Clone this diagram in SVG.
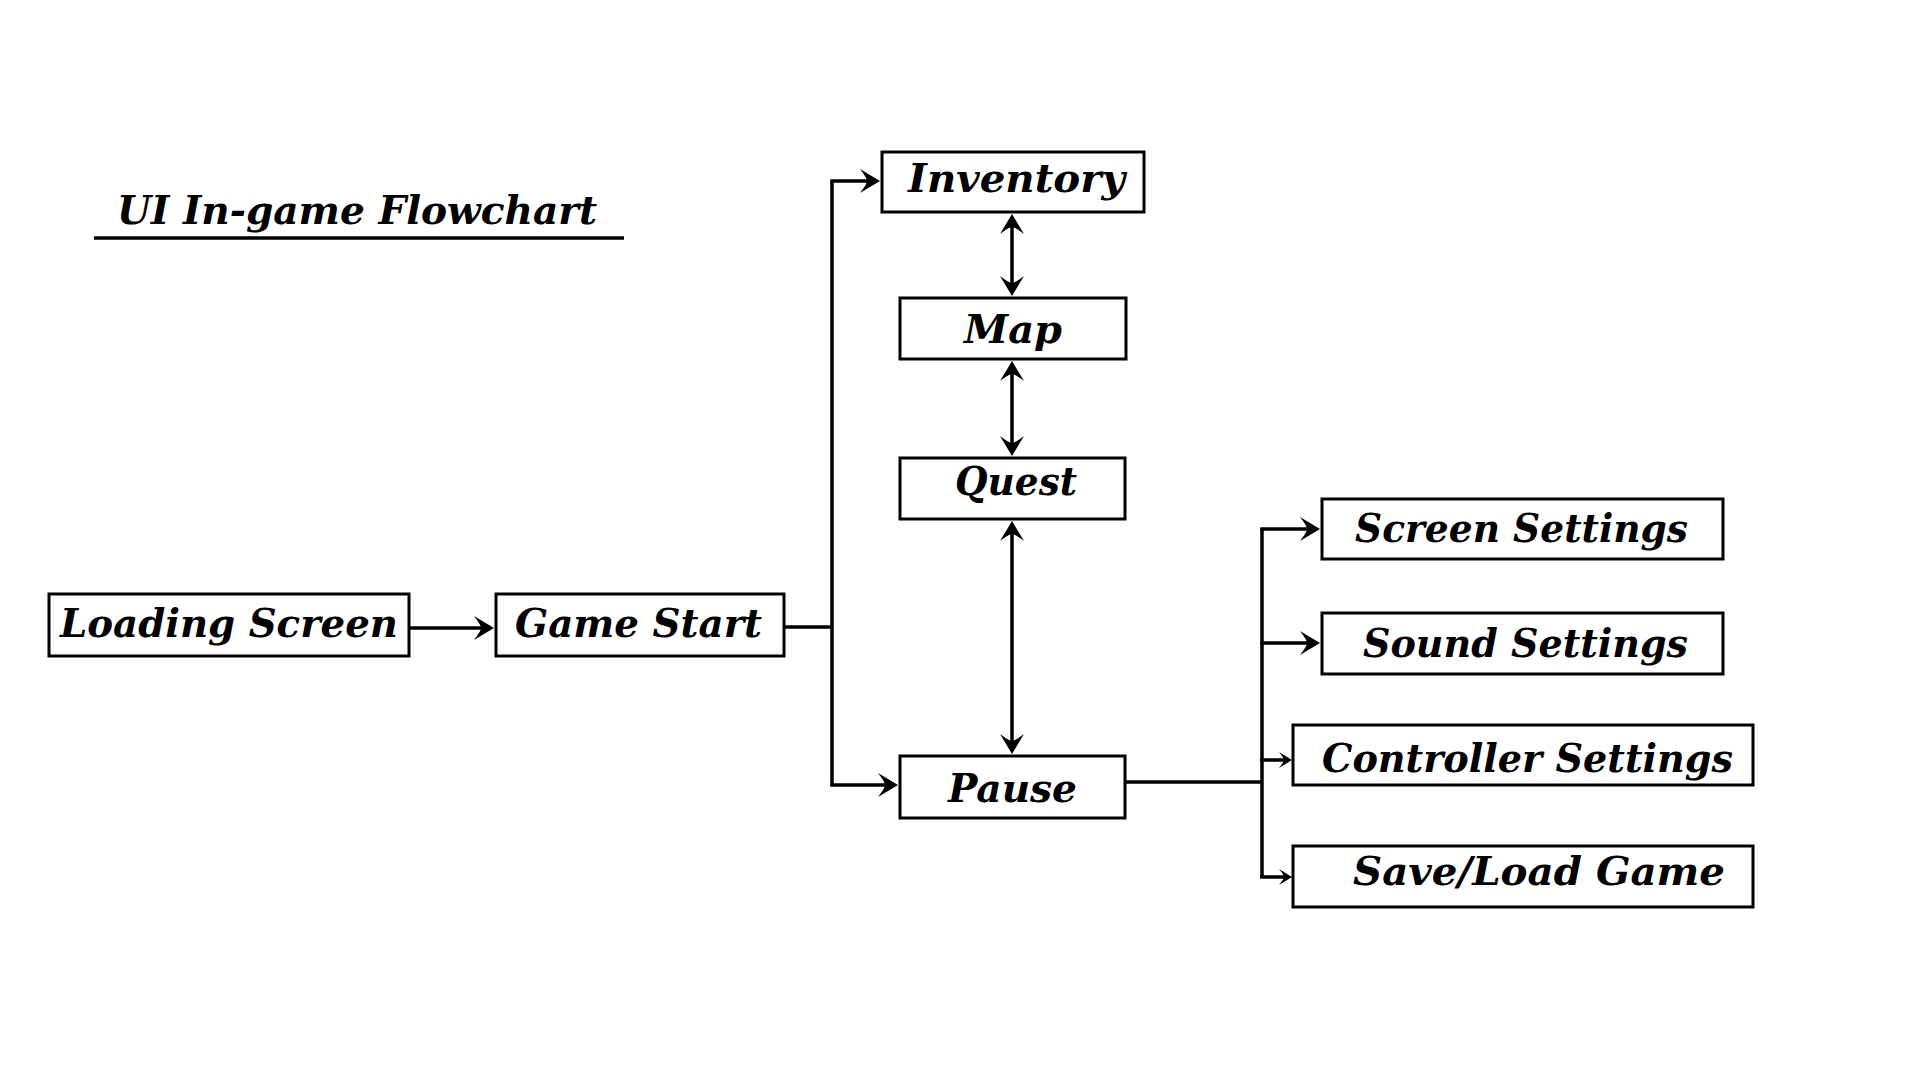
<svg xmlns="http://www.w3.org/2000/svg" width="1920" height="1080" viewBox="0 0 1920 1080">
<style>
.box{fill:#fff;stroke:#000;stroke-width:3}
.lbl{font-family:"DejaVu Serif","Liberation Serif",serif;font-weight:bold;font-style:italic;font-size:40px;fill:#000}
.ln{fill:none;stroke:#000;stroke-width:3.5}
</style>
<defs>
<marker id="ab" markerUnits="userSpaceOnUse" viewBox="-24 -14 34 28" markerWidth="34" markerHeight="28" refX="-9" refY="0" orient="auto-start-reverse" overflow="visible">
<path d="M0,0 L-20,-12 Q-13,-3 -13,0 Q-13,3 -20,12 Z" fill="#000"/>
</marker>
<marker id="as" markerUnits="userSpaceOnUse" viewBox="-16 -10 22 20" markerWidth="22" markerHeight="20" refX="-6" refY="0" orient="auto" overflow="visible">
<path d="M0,0 L-13,-8 Q-8,-2 -8,0 Q-8,2 -13,8 Z" fill="#000"/>
</marker>
</defs>
<rect width="1920" height="1080" fill="#fff"/>
<g id="title">
<text class="lbl" x="117" y="224" textLength="480" lengthAdjust="spacingAndGlyphs">UI In-game Flowchart</text>
<line x1="94" y1="238" x2="624" y2="238" stroke="#000" stroke-width="3.5"/>
</g>
<g id="connectors">
<line class="ln" x1="409" y1="628" x2="485" y2="628" marker-end="url(#ab)"/>
<line class="ln" x1="784" y1="627" x2="832" y2="627"/>
<line class="ln" x1="832" y1="181" x2="832" y2="785"/>
<line class="ln" x1="830.25" y1="181" x2="871" y2="181" marker-end="url(#ab)"/>
<line class="ln" x1="830.25" y1="785" x2="889" y2="785" marker-end="url(#ab)"/>
<line class="ln" x1="1012" y1="223" x2="1012" y2="287" marker-start="url(#ab)" marker-end="url(#ab)"/>
<line class="ln" x1="1012" y1="370" x2="1012" y2="447" marker-start="url(#ab)" marker-end="url(#ab)"/>
<line class="ln" x1="1012" y1="530" x2="1012" y2="745" marker-start="url(#ab)" marker-end="url(#ab)"/>
<line class="ln" x1="1125" y1="782" x2="1262" y2="782"/>
<line class="ln" x1="1262" y1="528" x2="1262" y2="878"/>
<line class="ln" x1="1260.25" y1="529" x2="1311" y2="529" marker-end="url(#ab)"/>
<line class="ln" x1="1260.25" y1="643" x2="1311" y2="643" marker-end="url(#ab)"/>
<line class="ln" x1="1260.25" y1="760" x2="1286" y2="760" marker-end="url(#as)"/>
<line class="ln" x1="1260.25" y1="877" x2="1286" y2="877" marker-end="url(#as)"/>
</g>
<g id="loading-screen">
<rect class="box" x="49" y="594" width="360" height="62"/>
<text class="lbl" x="60" y="637" textLength="338" lengthAdjust="spacingAndGlyphs">Loading Screen</text>
</g>
<g id="game-start">
<rect class="box" x="496" y="594" width="288" height="62"/>
<text class="lbl" x="515" y="637" textLength="247" lengthAdjust="spacingAndGlyphs">Game Start</text>
</g>
<g id="inventory">
<rect class="box" x="882" y="152" width="262" height="60"/>
<text class="lbl" x="908" y="192" textLength="217" lengthAdjust="spacingAndGlyphs">Inventory</text>
</g>
<g id="map">
<rect class="box" x="900" y="298" width="226" height="61"/>
<text class="lbl" x="964" y="343" textLength="98" lengthAdjust="spacingAndGlyphs">Map</text>
</g>
<g id="quest">
<rect class="box" x="900" y="458" width="225" height="61"/>
<text class="lbl" x="955" y="495" textLength="122" lengthAdjust="spacingAndGlyphs">Quest</text>
</g>
<g id="pause">
<rect class="box" x="900" y="756" width="225" height="62"/>
<text class="lbl" x="948" y="802" textLength="129" lengthAdjust="spacingAndGlyphs">Pause</text>
</g>
<g id="screen-settings">
<rect class="box" x="1322" y="499" width="401" height="60"/>
<text class="lbl" x="1355" y="542" textLength="333" lengthAdjust="spacingAndGlyphs">Screen Settings</text>
</g>
<g id="sound-settings">
<rect class="box" x="1322" y="613" width="401" height="61"/>
<text class="lbl" x="1363" y="657" textLength="325" lengthAdjust="spacingAndGlyphs">Sound Settings</text>
</g>
<g id="controller-settings">
<rect class="box" x="1293" y="725" width="460" height="60"/>
<text class="lbl" x="1322" y="772" textLength="411" lengthAdjust="spacingAndGlyphs">Controller Settings</text>
</g>
<g id="save-load-game">
<rect class="box" x="1293" y="846" width="460" height="61"/>
<text class="lbl" x="1353" y="885" textLength="372" lengthAdjust="spacingAndGlyphs">Save/Load Game</text>
</g>
</svg>
